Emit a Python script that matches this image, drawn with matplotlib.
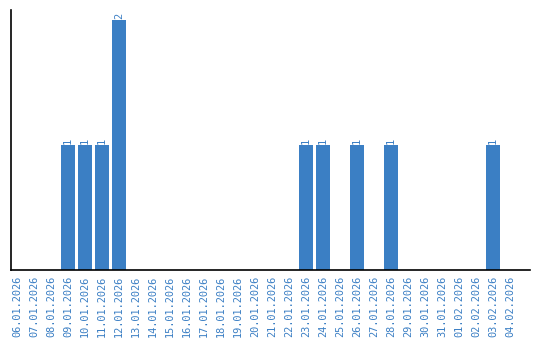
import matplotlib
matplotlib.use("Agg")
import matplotlib.pyplot as plt
import numpy as np

dates = [
    "06.01.2026", "07.01.2026", "08.01.2026", "09.01.2026", "10.01.2026",
    "11.01.2026", "12.01.2026", "13.01.2026", "14.01.2026", "15.01.2026",
    "16.01.2026", "17.01.2026", "18.01.2026", "19.01.2026", "20.01.2026",
    "21.01.2026", "22.01.2026", "23.01.2026", "24.01.2026", "25.01.2026",
    "26.01.2026", "27.01.2026", "28.01.2026", "29.01.2026", "30.01.2026",
    "31.01.2026", "01.02.2026", "02.02.2026", "03.02.2026", "04.02.2026",
]
counts = [0, 0, 0, 1, 1, 1, 2, 0, 0, 0,
          0, 0, 0, 0, 0, 0, 0, 1, 1, 0,
          1, 0, 1, 0, 0, 0, 0, 0, 1, 0]

BLUE = "#3b7fc4"

fig = plt.figure(figsize=(5.4, 3.4), dpi=100)
ax = fig.add_axes([11 / 540, 70 / 340, 519 / 540, 260 / 340])

x = np.arange(len(dates))
ax.bar(x, counts, width=0.82, color=BLUE)

for xi, c in zip(x, counts):
    if c > 0:
        ax.text(xi, c + 0.01, str(c), rotation=90, ha="center", va="bottom",
                color=BLUE, fontsize=7.5, family="DejaVu Sans Mono")

ax.set_xlim(-0.35, 30.18)
ax.set_ylim(0, 2.08)
ax.set_xticks(x)
ax.set_xticklabels(dates, rotation=90, color=BLUE, fontsize=7.4,
                   family="DejaVu Sans Mono")
ax.tick_params(axis="x", length=0, pad=4)
ax.set_yticks([])
ax.spines["top"].set_visible(False)
ax.spines["right"].set_visible(False)
ax.spines["left"].set_linewidth(1.2)
ax.spines["bottom"].set_linewidth(1.2)

fig.savefig("out.png", dpi=100)
